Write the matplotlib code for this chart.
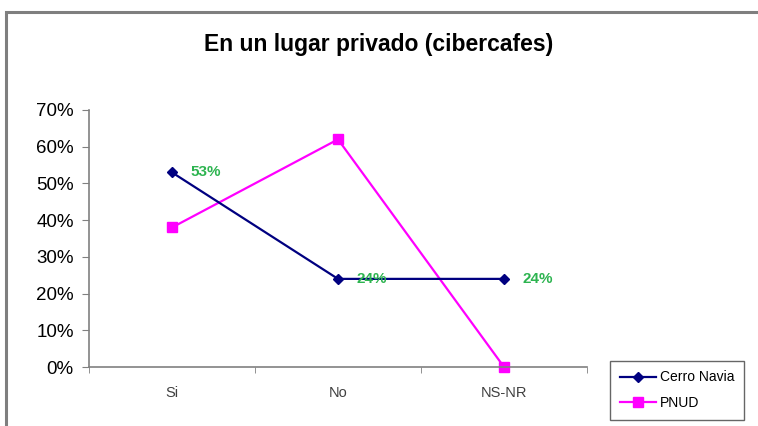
import matplotlib.pyplot as plt
from matplotlib.patches import Rectangle
from matplotlib.ticker import FixedLocator, PercentFormatter

plt.rcParams['font.family'] = ['Liberation Sans', 'DejaVu Sans']

categories = ['Si', 'No', 'NS-NR']
cerro_navia = [53, 24, 24]
pnud = [38, 62, 0]
title = 'En un lugar privado (cibercafes)'

fig = plt.figure(figsize=(7.58, 4.26), dpi=100)

# outer chart frame
fig.patches.append(Rectangle((6 / 758, -0.1), 1.1, 1 - 12 / 426 + 0.1,
                             transform=fig.transFigure, fill=False,
                             edgecolor='#7f7f7f', linewidth=2.2))

ax = fig.add_axes([89 / 758, 1 - 367 / 426, 498 / 758, 257 / 426])
x = range(len(categories))
ax.plot(x, cerro_navia, color='#000080', marker='D', markersize=5,
        linewidth=1.6, label='Cerro Navia', clip_on=False, zorder=3)
ax.plot(x, pnud, color='#ff00ff', marker='s', markersize=7.5,
        linewidth=1.6, label='PNUD', clip_on=False, zorder=2)

for i, v in enumerate(cerro_navia):
    ax.annotate(f'{v}%', (i, v), xytext=(13, 0), textcoords='offset points',
                va='center', ha='left', color='#2db450', fontsize=11,
                fontweight='bold')

ax.set_xlim(-0.5, 2.5)
ax.set_ylim(0, 70)
ax.set_yticks(range(0, 71, 10))
ax.yaxis.set_major_formatter(PercentFormatter(decimals=0))
ax.set_xticks(list(x))
ax.set_xticklabels(categories, color='#404040', fontsize=10.5)
ax.xaxis.set_minor_locator(FixedLocator([-0.5, 0.5, 1.5, 2.5]))
ax.tick_params(axis='x', which='major', length=0, pad=14)
ax.tick_params(axis='x', which='minor', length=4, color='#808080',
               direction='out')
ax.tick_params(axis='y', length=5, color='#808080', labelsize=13.5,
               pad=6)

for side in ('top', 'right'):
    ax.spines[side].set_visible(False)
for side in ('left', 'bottom'):
    ax.spines[side].set_color('#808080')
    ax.spines[side].set_linewidth(1.2)

fig.text(0.5, 1 - 44 / 426, title, ha='center', va='center',
         fontsize=16.5, fontweight='bold')

leg = fig.legend(loc='lower left', bbox_to_anchor=(610 / 758, 6 / 426),
                 frameon=True, fancybox=False, fontsize=10,
                 handlelength=2.6, borderpad=0.7, labelspacing=0.85,
                 handletextpad=0.3, borderaxespad=0)
leg.get_frame().set_edgecolor('#404040')
leg.get_frame().set_linewidth(1.0)

fig.savefig('out.png', dpi=100)
